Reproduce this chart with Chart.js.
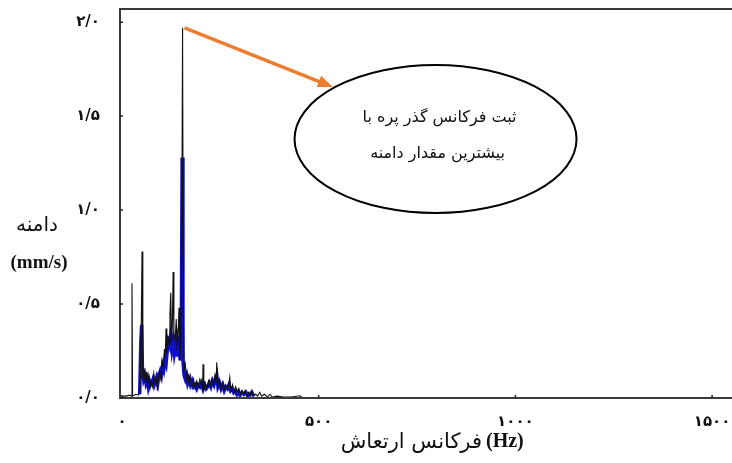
<!DOCTYPE html>
<html>
<head>
<meta charset="utf-8">
<script src="https://cdn.jsdelivr.net/npm/chart.js@4.4.1/dist/chart.umd.min.js"></script>
<style>
  body { margin: 0; background: #fff; }
  #wrap { width: 732px; height: 463px; }
</style>
</head>
<body>
<div id="wrap"><canvas id="spectrum"></canvas></div>
<script>
// black trace (Hz, mm/s)
const blackFreq = [0, 10, 20, 24, 25.5, 27, 35, 42, 46, 49, 51, 53, 56, 59, 62, 65, 68, 71, 74, 78, 81, 84, 87, 90, 93, 96, 99, 102, 105, 108, 110, 112, 114, 117, 120, 122, 124, 126, 128, 130, 132, 135, 138, 140, 143, 145, 147, 150, 152, 154, 156, 158, 161, 164, 167, 170, 174, 178, 182, 186, 190, 194, 198, 202, 205, 206, 208, 212, 216, 220, 224, 228, 232, 236, 239, 241, 243, 247, 251, 255, 259, 263, 267, 271, 274, 277, 281, 285, 289, 293, 297, 301, 305, 309, 313, 317, 322, 326, 330, 334, 340, 345, 350, 355, 362, 370, 376, 382, 395, 410, 430, 452, 460, 470];
const blackAmp = [0.01, 0.01, 0.015, 0.01, 0.61, 0.01, 0.02, 0.015, 0.03, 0.38, 0.78, 0.1, 0.16, 0.08, 0.14, 0.07, 0.12, 0.05, 0.09, 0.06, 0.13, 0.08, 0.1, 0.04, 0.12, 0.14, 0.1, 0.2, 0.16, 0.26, 0.22, 0.37, 0.24, 0.33, 0.28, 0.45, 0.56, 0.3, 0.38, 0.67, 0.35, 0.3, 0.42, 0.25, 0.36, 0.48, 0.2, 0.3, 0.8, 1.97, 0.45, 0.15, 0.18, 0.1, 0.13, 0.08, 0.12, 0.06, 0.1, 0.05, 0.09, 0.06, 0.1, 0.07, 0.05, 0.18, 0.04, 0.08, 0.05, 0.09, 0.06, 0.1, 0.07, 0.12, 0.08, 0.19, 0.06, 0.1, 0.05, 0.08, 0.04, 0.07, 0.05, 0.06, 0.11, 0.04, 0.07, 0.03, 0.06, 0.03, 0.05, 0.02, 0.04, 0.02, 0.04, 0.01, 0.03, 0.01, 0.04, 0.01, 0.02, 0.01, 0.03, 0.01, 0.02, 0.005, 0.02, 0.005, 0.01, 0.005, 0.005, 0.012, 0, 0];

// blue trace
const blueFreq = [45, 48, 50, 52, 55, 58, 61, 64, 67, 70, 73, 76, 79, 82, 85, 88, 91, 94, 97, 100, 103, 106, 109, 112, 115, 118, 121, 124, 127, 130, 133, 136, 139, 142, 145, 148, 151, 153, 155, 158, 161, 164, 167, 170, 174, 178, 182, 186, 190, 194, 198, 202, 206, 210, 214, 218, 222, 226, 230, 234, 238, 241, 244, 248, 252, 256, 260, 264, 268, 272, 276, 280, 284, 288, 292, 296, 300, 305, 310, 315, 320, 325, 330, 335];
const blueAmp = [0.02, 0.3, 0.39, 0.15, 0.1, 0.12, 0.08, 0.1, 0.06, 0.09, 0.07, 0.08, 0.1, 0.07, 0.09, 0.11, 0.08, 0.12, 0.14, 0.12, 0.17, 0.15, 0.2, 0.18, 0.25, 0.3, 0.28, 0.33, 0.26, 0.3, 0.24, 0.28, 0.22, 0.3, 0.26, 0.2, 0.4, 1.28, 0.2, 0.12, 0.1, 0.12, 0.08, 0.1, 0.07, 0.09, 0.06, 0.07, 0.05, 0.07, 0.06, 0.08, 0.05, 0.07, 0.05, 0.06, 0.08, 0.06, 0.09, 0.07, 0.1, 0.12, 0.06, 0.08, 0.05, 0.07, 0.04, 0.06, 0.05, 0.07, 0.04, 0.05, 0.03, 0.04, 0.02, 0.035, 0.015, 0.03, 0.02, 0.03, 0.01, 0.02, 0.03, 0.01];

const xTicks = [0, 500, 1000, 1500];
const xTickLabels = ['۰', '۵۰۰', '۱۰۰۰', '۱۵۰۰'];
const yTicks = [0, 0.5, 1, 1.5, 2];
const yTickLabels = ['۰/۰', '۰/۵', '۱/۰', '۱/۵', '۲/۰'];

const xTitle = ['فرکانس ارتعاش', '(Hz)'];
const yTitle = ['دامنه', '(mm/s)'];
const noteLines = ['ثبت فرکانس گذر پره با', 'بیشترین مقدار دامنه'];

// peak that the note points at, and note placement (in data units)
const peak = { f: 154, a: 1.97 };
const arrowTip = { f: 536, a: 1.655 };
const noteCenter = { f: 797, a: 1.378 };

const faFont = '"DejaVu Sans", sans-serif';

function pairs(xs, ys) {
    return xs.map((v, i) => ({ x: v, y: ys[i] }));
}

const overlay = {
    id: 'overlay',
    afterDatasetsDraw(chart) {
        const { ctx, chartArea: a, scales: { x, y } } = chart;
        ctx.save();

        // frame (no right side)
        ctx.strokeStyle = '#3a3a3a';
        ctx.lineWidth = 2;
        ctx.beginPath();
        ctx.moveTo(chart.width, a.top);
        ctx.lineTo(a.left, a.top);
        ctx.lineTo(a.left, a.bottom);
        ctx.lineTo(chart.width, a.bottom);
        ctx.stroke();

        // small inward tick marks
        ctx.lineWidth = 1.5;
        ctx.strokeStyle = '#222';
        ctx.beginPath();
        yTicks.forEach(v => {
            const py = y.getPixelForValue(v);
            ctx.moveTo(a.left, py);
            ctx.lineTo(a.left + 3, py);
        });
        xTicks.forEach(v => {
            const px = x.getPixelForValue(v);
            ctx.moveTo(px, a.bottom);
            ctx.lineTo(px, a.bottom - 3);
        });
        ctx.stroke();

        // orange arrow
        const x0 = x.getPixelForValue(peak.f) + 2, y0 = y.getPixelForValue(peak.a);
        const x1 = x.getPixelForValue(arrowTip.f), y1 = y.getPixelForValue(arrowTip.a);
        const ang = Math.atan2(y1 - y0, x1 - x0);
        const head = 15;
        ctx.strokeStyle = '#ed7d31';
        ctx.fillStyle = '#ed7d31';
        ctx.lineWidth = 3.5;
        ctx.beginPath();
        ctx.moveTo(x0, y0);
        ctx.lineTo(x1 - Math.cos(ang) * head * 0.8, y1 - Math.sin(ang) * head * 0.8);
        ctx.stroke();
        ctx.beginPath();
        ctx.moveTo(x1, y1);
        ctx.lineTo(x1 - head * Math.cos(ang) + 6 * Math.sin(ang), y1 - head * Math.sin(ang) - 6 * Math.cos(ang));
        ctx.lineTo(x1 - head * Math.cos(ang) - 6 * Math.sin(ang), y1 - head * Math.sin(ang) + 6 * Math.cos(ang));
        ctx.closePath();
        ctx.fill();

        // ellipse note
        const cx = x.getPixelForValue(noteCenter.f), cy = y.getPixelForValue(noteCenter.a);
        ctx.fillStyle = '#fff';
        ctx.strokeStyle = '#000';
        ctx.lineWidth = 2;
        ctx.beginPath();
        ctx.ellipse(cx, cy, 141, 74, 0, 0, Math.PI * 2);
        ctx.fill();
        ctx.stroke();

        ctx.fillStyle = '#111';
        ctx.font = '16px ' + faFont;
        ctx.textAlign = 'center';
        ctx.textBaseline = 'middle';
        ctx.direction = 'rtl';
        ctx.fillText(noteLines[0], cx + 4, cy - 21);
        ctx.fillText(noteLines[1], cx + 2, cy + 15);

        // axis titles
        ctx.direction = 'ltr';
        ctx.font = '20px ' + faFont;
        ctx.fillText(yTitle[0], 37, 226);
        ctx.font = 'bold 19px "Liberation Serif", serif';
        ctx.fillText(yTitle[1], 39, 263);

        // x title: Persian words, then (Hz) on the right
        ctx.direction = 'rtl';
        ctx.textAlign = 'right';
        ctx.font = '21px ' + faFont;
        ctx.fillText(xTitle[0], 482, 443);
        ctx.direction = 'ltr';
        ctx.textAlign = 'left';
        ctx.font = 'bold 20px "Liberation Serif", serif';
        ctx.fillText(xTitle[1], 486, 442);

        ctx.restore();
    }
};

new Chart(document.getElementById('spectrum'), {
    type: 'line',
    data: {
        datasets: [
            {
                label: 'blue',
                data: pairs(blueFreq, blueAmp),
                borderColor: '#1010cc',
                borderWidth: 3.5,
                pointRadius: 0,
                tension: 0,
                order: 2
            },
            {
                label: 'black',
                data: pairs(blackFreq, blackAmp),
                borderColor: '#111',
                borderWidth: 1.1,
                pointRadius: 0,
                tension: 0,
                order: 1
            }
        ]
    },
    options: {
        responsive: true,
        maintainAspectRatio: false,
        animation: false,
        layout: { padding: { top: 9, right: 1, left: 0, bottom: 0 } },
        plugins: {
            legend: { display: false },
            tooltip: { enabled: false }
        },
        scales: {
            x: {
                type: 'linear',
                min: -5,
                max: 1548,
                afterBuildTicks: (scale) => { scale.ticks = xTicks.map(v => ({ value: v })); },
                afterFit: (scale) => {
                    scale.height = 65;
                    scale.paddingLeft = 0;
                    scale.paddingRight = 0;
                },
                grid: { display: false, drawTicks: false },
                border: { display: false },
                ticks: {
                    padding: 15,
                    color: '#111',
                    font: { family: faFont, size: 15, weight: 'bold' },
                    maxRotation: 0,
                    callback: (v) => xTickLabels[xTicks.indexOf(v)]
                }
            },
            y: {
                min: 0,
                max: 2.07,
                afterBuildTicks: (scale) => { scale.ticks = yTicks.map(v => ({ value: v })); },
                afterFit: (scale) => {
                    scale.width = 120;
                    scale.paddingTop = 0;
                    scale.paddingBottom = 0;
                },
                grid: { display: false, drawTicks: false },
                border: { display: false },
                ticks: {
                    padding: 20,
                    color: '#111',
                    font: { family: faFont, size: 15, weight: 'bold' },
                    callback: (v) => yTickLabels[yTicks.indexOf(v)]
                }
            }
        }
    },
    plugins: [overlay]
});
</script>
</body>
</html>
